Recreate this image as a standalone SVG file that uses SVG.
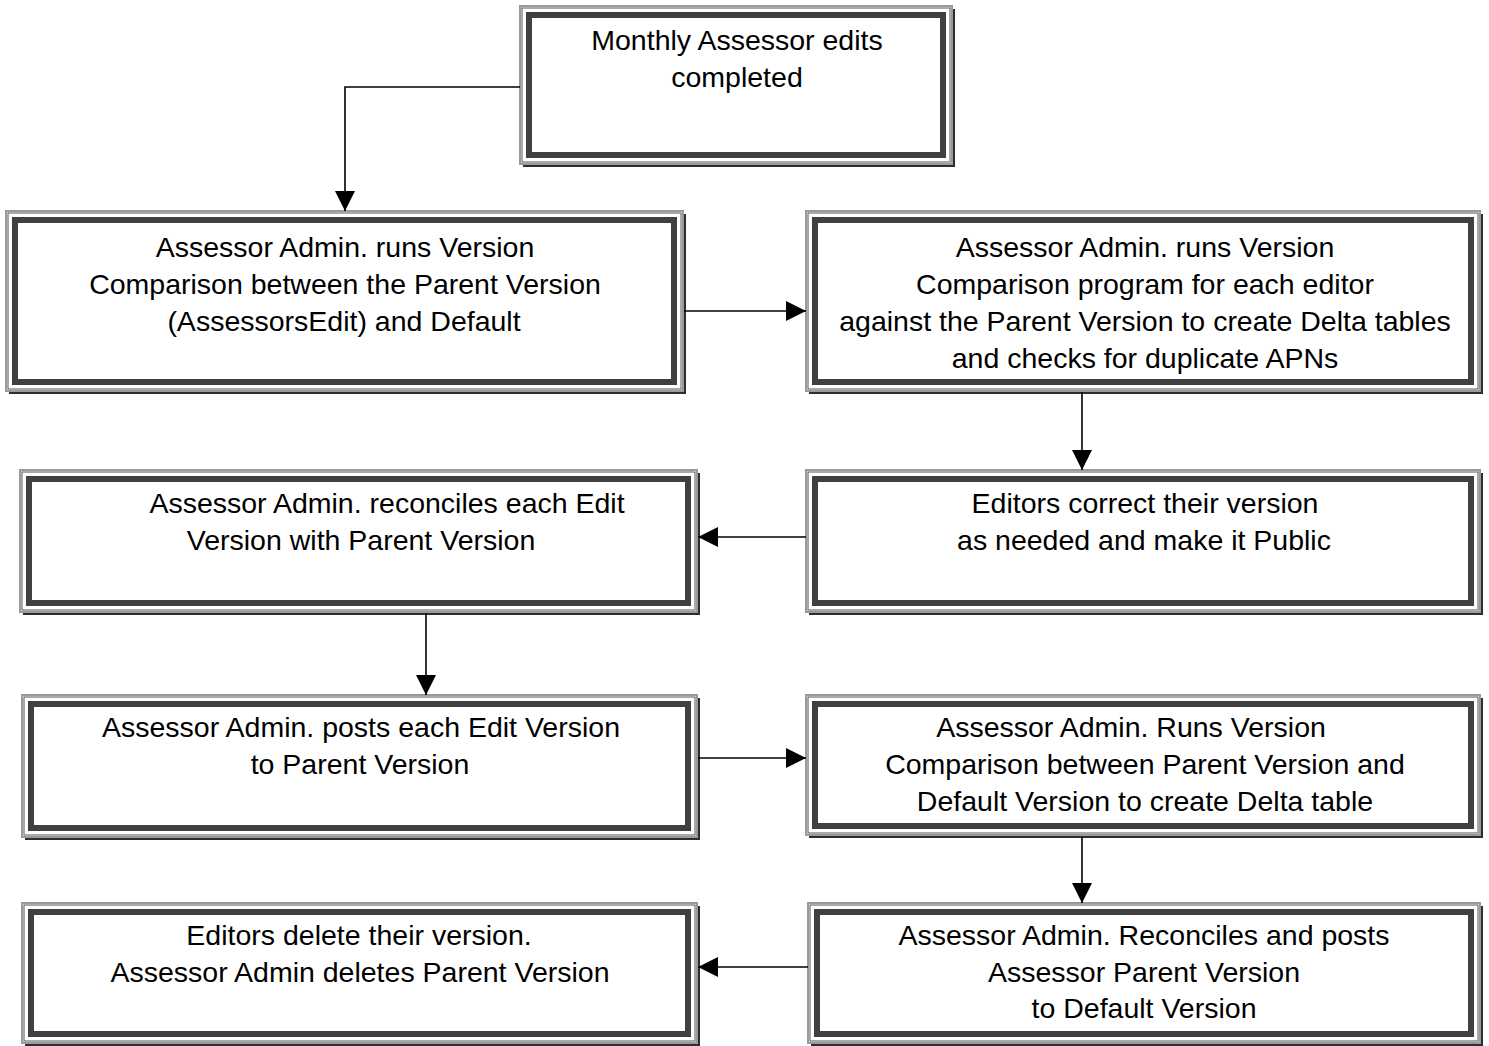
<svg xmlns="http://www.w3.org/2000/svg" width="1489" height="1046" viewBox="0 0 1489 1046">
<defs>
<style>
.sh{fill:#2e2e2e}
.ou{fill:#fff;stroke:#9a9a9a;stroke-width:2}
.tn{fill:none;stroke:#555;stroke-width:1}
.in{fill:none;stroke:#404040;stroke-width:6}
text{font-family:"Liberation Sans",Arial,sans-serif;font-size:28.5px;fill:#000;text-anchor:middle}
.cn{fill:none;stroke:#000;stroke-width:1.6}
</style>
<marker id="ah" markerUnits="userSpaceOnUse" markerWidth="20" markerHeight="20" refX="20" refY="10" orient="auto">
<path d="M0,0 L20,10 L0,20 Z" fill="#000"/>
</marker>
</defs>
<rect width="1489" height="1046" fill="#fff"/>

<g id="n1">
<rect class="sh" x="523" y="9" width="432" height="158"/>
<rect class="ou" x="520" y="6" width="432" height="158"/>
<rect class="tn" x="522" y="8" width="428" height="154"/>
<rect class="in" x="529" y="15" width="414" height="140"/>
<text x="737" y="50">Monthly Assessor edits</text>
<text x="737" y="87">completed</text>
</g>

<g id="n2">
<rect class="sh" x="9" y="214" width="677" height="180"/>
<rect class="ou" x="6" y="211" width="677" height="180"/>
<rect class="tn" x="8" y="213" width="673" height="176"/>
<rect class="in" x="15" y="220" width="659" height="162"/>
<text x="345" y="257">Assessor Admin. runs Version</text>
<text x="345" y="294">Comparison between the Parent Version</text>
<text x="344" y="331">(AssessorsEdit) and Default</text>
</g>

<g id="n3">
<rect class="sh" x="809" y="214" width="674" height="180"/>
<rect class="ou" x="806" y="211" width="674" height="180"/>
<rect class="tn" x="808" y="213" width="670" height="176"/>
<rect class="in" x="815" y="220" width="656" height="162"/>
<text x="1145" y="257">Assessor Admin. runs Version</text>
<text x="1145" y="294">Comparison program for each editor</text>
<text x="1145" y="331">against the Parent Version to create Delta tables</text>
<text x="1145" y="368">and checks for duplicate APNs</text>
</g>

<g id="n4">
<rect class="sh" x="23" y="473" width="677" height="142"/>
<rect class="ou" x="20" y="470" width="677" height="142"/>
<rect class="tn" x="22" y="472" width="673" height="138"/>
<rect class="in" x="29" y="479" width="659" height="124"/>
<text x="387" y="513">Assessor Admin. reconciles each Edit</text>
<text x="361" y="550">Version with Parent Version</text>
</g>

<g id="n5">
<rect class="sh" x="809" y="473" width="674" height="142"/>
<rect class="ou" x="806" y="470" width="674" height="142"/>
<rect class="tn" x="808" y="472" width="670" height="138"/>
<rect class="in" x="815" y="479" width="656" height="124"/>
<text x="1145" y="513">Editors correct their version</text>
<text x="1144" y="550">as needed and make it Public</text>
</g>

<g id="n6">
<rect class="sh" x="25" y="698" width="675" height="142"/>
<rect class="ou" x="22" y="695" width="675" height="142"/>
<rect class="tn" x="24" y="697" width="671" height="138"/>
<rect class="in" x="31" y="704" width="657" height="124"/>
<text x="361" y="737">Assessor Admin. posts each Edit Version</text>
<text x="360" y="774">to Parent Version</text>
</g>

<g id="n7">
<rect class="sh" x="809" y="698" width="674" height="140"/>
<rect class="ou" x="806" y="695" width="674" height="140"/>
<rect class="tn" x="808" y="697" width="670" height="136"/>
<rect class="in" x="815" y="704" width="656" height="122"/>
<text x="1131" y="737">Assessor Admin. Runs Version</text>
<text x="1145" y="774">Comparison between Parent Version and</text>
<text x="1145" y="811">Default Version to create Delta table</text>
</g>

<g id="n8">
<rect class="sh" x="25" y="906" width="675" height="140"/>
<rect class="ou" x="22" y="903" width="675" height="140"/>
<rect class="tn" x="24" y="905" width="671" height="136"/>
<rect class="in" x="31" y="912" width="657" height="122"/>
<text x="359" y="945">Editors delete their version.</text>
<text x="360" y="982">Assessor Admin deletes Parent Version</text>
</g>

<g id="n9">
<rect class="sh" x="811" y="906" width="672" height="140"/>
<rect class="ou" x="808" y="903" width="672" height="140"/>
<rect class="tn" x="810" y="905" width="668" height="136"/>
<rect class="in" x="817" y="912" width="654" height="122"/>
<text x="1144" y="945">Assessor Admin. Reconciles and posts</text>
<text x="1144" y="982">Assessor Parent Version</text>
<text x="1144" y="1018">to Default Version</text>
</g>

<g id="connectors">
<path class="cn" d="M520,87 H345 V211" marker-end="url(#ah)"/>
<path class="cn" d="M684,311 H806" marker-end="url(#ah)"/>
<path class="cn" d="M1082,392 V470" marker-end="url(#ah)"/>
<path class="cn" d="M806,537 H698" marker-end="url(#ah)"/>
<path class="cn" d="M426,613 V695" marker-end="url(#ah)"/>
<path class="cn" d="M698,758 H806" marker-end="url(#ah)"/>
<path class="cn" d="M1082,837 V903" marker-end="url(#ah)"/>
<path class="cn" d="M808,967 H698" marker-end="url(#ah)"/>
</g>
</svg>
